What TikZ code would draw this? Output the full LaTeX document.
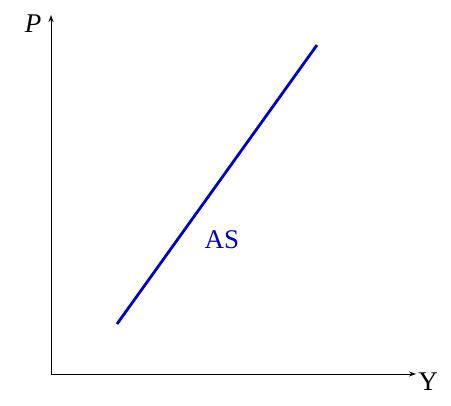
\documentclass[tikz,border=0pt]{standalone}
\usepackage{fontspec}
\setmainfont{Liberation Serif}
\usetikzlibrary{arrows.meta}
\begin{document}
\begin{tikzpicture}[x=1pt,y=-1pt,
  axis/.style={line width=0.9pt,-{Stealth[length=7pt,width=5pt]}},
  curve/.style={line width=2.8pt,color=asblue},
  lbl/.style={inner sep=0pt,font=\fontsize{27}{32}\selectfont}]
\definecolor{asblue}{RGB}{0,0,204}
\useasboundingbox (0,0) rectangle (451,406);
\coordinate (O) at (51,374);
\coordinate (ytop) at (51,15);
\coordinate (xend) at (416,374);
\draw[axis] (O) -- (ytop);
\draw[axis] (O) -- (xend);
\node[lbl] (P) at (33,24) {\textit{P}};
\node[lbl] (Y) at (428,382) {Y};
\coordinate (a) at (117,324);
\coordinate (b) at (317,45);
\draw[curve] (a) -- (b);
\node[lbl,text=asblue] (AS) at (222,240) {AS};
\end{tikzpicture}
\end{document}
